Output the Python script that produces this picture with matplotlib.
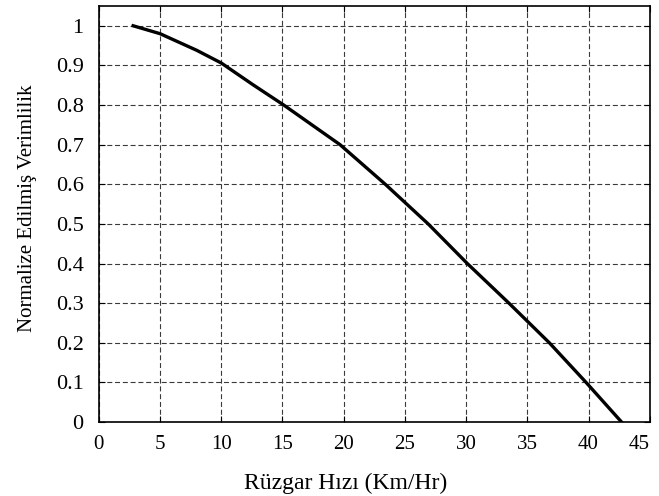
import numpy as np
import matplotlib.pyplot as plt

# Okunan noktalar (rüzgar hızı, normalize verimlilik)
wind_speed = [2.8, 5.0, 8.0, 10.0, 12.6, 15.1, 19.7, 23.4, 26.9, 30.1, 33.5, 36.8, 39.8, 42.7]
efficiency = [1.0, 0.98, 0.938, 0.906, 0.851, 0.80, 0.70, 0.60, 0.50, 0.40, 0.30, 0.20, 0.10, 0.0]

x_ticks = np.arange(0, 50, 5)
y_ticks = np.round(np.arange(0, 1.01, 0.1), 1)
y_tick_labels = ["0"] + [f"{v:g}" for v in y_ticks[1:]]

plt.rcParams["font.family"] = ["Liberation Serif", "DejaVu Serif"]

fig = plt.figure(figsize=(6.59, 4.96), dpi=100)
ax = fig.add_axes([0.150, 0.149, 0.836, 0.839])

ax.plot(wind_speed, efficiency, color="black", linewidth=2.4)

ax.set_xlim(0, 45)
ax.set_ylim(0, 1.05)
ax.set_xticks(x_ticks)
ax.set_yticks(y_ticks)
ax.set_yticklabels(y_tick_labels)
ax.tick_params(direction="in", top=True, right=True, length=4)
ax.tick_params(axis="y", pad=11, labelsize=16)
ax.tick_params(axis="x", pad=9, labelsize=15)
ax.grid(True, color="#3a3a3a", linestyle=(0, (4.5, 2.5)), linewidth=0.8)
for s in ax.spines.values():
    s.set_linewidth(1.2)

# son etiket (45) resmin dışına taşmasın diye sağa hizalı
ax.get_xticklabels()[-1].set_horizontalalignment("right")

ax.set_xlabel("Rüzgar Hızı (Km/Hr)", fontsize=17)
ax.xaxis.set_label_coords(0.448, -0.122)
ax.set_ylabel("Normalize Edilmiş Verimlilik", fontsize=15)
ax.yaxis.set_label_coords(-0.113, 0.514)

fig.savefig("out.png", dpi=100)
